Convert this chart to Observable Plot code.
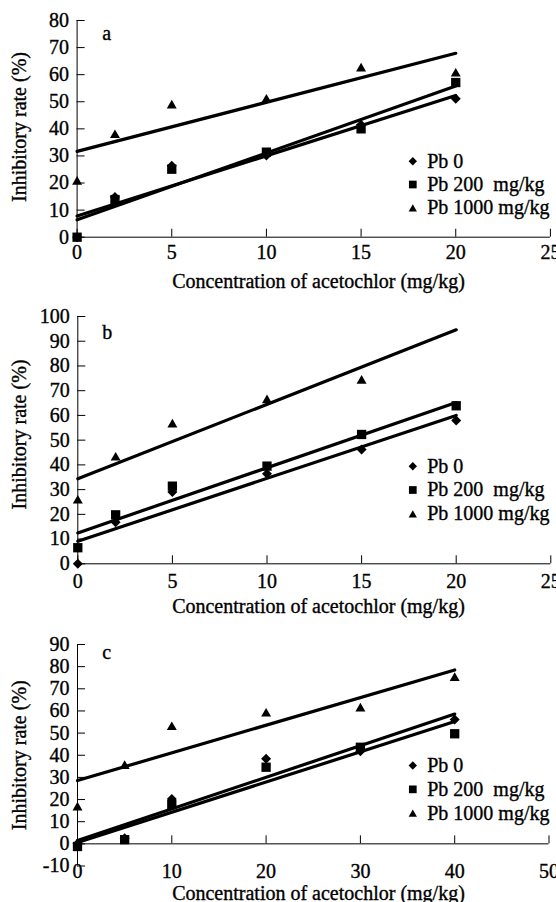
<!DOCTYPE html>
<html><head><meta charset="utf-8">
<script src="https://cdn.jsdelivr.net/npm/d3@7"></script>
<script src="https://cdn.jsdelivr.net/npm/@observablehq/plot@0.6"></script>
<style>
html,body{margin:0;padding:0;background:#fff;}
#wrap{position:relative;width:556px;height:902px;overflow:hidden;background:#fff;}
#wrap svg{position:absolute;left:0;}
#wrap svg text{white-space:pre;stroke:#000;stroke-width:0.35px;}
</style></head><body><div id="wrap"></div>
<script>
// ---------- data ----------
const seriesLabels = ["Pb 0", "Pb 200  mg/kg", "Pb 1000 mg/kg"];
const xTitle = "Concentration of acetochlor (mg/kg)";
const yTitle = "Inhibitory rate (%)";

// panel a
const xA = [0, 2, 5, 10, 15, 20];
const aPb0 = [0, 14.8, 26.4, 30.2, 41.5, 51.1];
const aPb200 = [0, 13.9, 25.1, 31.4, 40.0, 57.1];
const aPb1000 = [21.0, 38.2, 49.1, 51.3, 62.8, 60.9];
const aFitX = [0, 20];
const aFitPb0 = [7.8, 52.3];
const aFitPb200 = [6.4, 55.8];
const aFitPb1000 = [31.7, 67.9];
const aXTicks = [0, 5, 10, 15, 20, 25];
const aYTicks = [0, 10, 20, 30, 40, 50, 60, 70, 80];

// panel b
const xB = [0, 2, 5, 10, 15, 20];
const bPb0 = [0, 16.8, 29.0, 36.4, 46.2, 57.9];
const bPb200 = [6.5, 19.8, 31.4, 39.5, 52.3, 63.9];
const bPb1000 = [26.1, 43.5, 56.9, 66.7, 74.6, null];
const bFitX = [0, 20];
const bFitPb0 = [9.1, 60.0];
const bFitPb200 = [12.5, 65.2];
const bFitPb1000 = [34.4, 94.6];
const bXTicks = [0, 5, 10, 15, 20, 25];
const bYTicks = [0, 10, 20, 30, 40, 50, 60, 70, 80, 90, 100];

// panel c
const xC = [0, 5, 10, 20, 30, 40];
const cPb0 = [0, 2.5, 20.3, 38.4, 41.8, 56.1];
const cPb200 = [-1.2, 1.9, 17.7, 34.6, 43.6, 49.7];
const cPb1000 = [17.0, 35.8, 53.3, 59.4, 61.7, 75.5];
const cFitX = [0, 40];
const cFitPb0 = [1.5, 58.6];
const cFitPb200 = [0.6, 55.2];
const cFitPb1000 = [28.6, 78.5];
const cXTicks = [0, 10, 20, 30, 40, 50];
const cYTicks = [-10, 0, 10, 20, 30, 40, 50, 60, 70, 80, 90];

// ---------- styling ----------
const symbols = ["diamond2", "square", "triangle"];
const dotR = [4.5, 5.25, 3.71];
const dotDy = [0, 0, 1.44];
const legR = [3.78, 4.35, 3.08];
const legDy = [0, 0, 1.2];
const W = 556;

const panels = [
  {letter: "a", xs: xA, ys: [aPb0, aPb200, aPb1000], fitX: aFitX, fits: [aFitPb0, aFitPb200, aFitPb1000],
   xDomain: [0, 25], yDomain: [0, 80], xTicks: aXTicks, yTicks: aYTicks,
   lay: {top: 0, h: 295, mt: 20, mb: 58.3, ml: 76.6, mr: 6.1, xpad: 7.5, titleDy: 50.3, ytDy: -1.85,
         letterY: 39.3, legY0: 160.7, legStep: 23.3}},
  {letter: "b", xs: xB, ys: [bPb0, bPb200, bPb1000], fitX: bFitX, fits: [bFitPb0, bFitPb200, bFitPb1000],
   xDomain: [0, 25], yDomain: [0, 100], xTicks: bXTicks, yTicks: bYTicks,
   lay: {top: 295, h: 330, mt: 21, mb: 61.7, ml: 77.3, mr: 5.7, xpad: 9.5, titleDy: 49.3, ytDy: -5.65,
         letterY: 338.3, legY0: 465.7, legStep: 23.8}},
  {letter: "c", xs: xC, ys: [cPb0, cPb200, cPb1000], fitX: cFitX, fits: [cFitPb0, cFitPb200, cFitPb1000],
   xDomain: [0, 50], yDomain: [-10, 90], xTicks: cXTicks, yTicks: cYTicks,
   lay: {top: 625, h: 277, mt: 19, mb: 36.5, ml: 77, mr: 7.5, xpad: -2.2, titleDy: 33.7, ytDy: 0,
         letterY: 658.3, legY0: 765, legStep: 23.85}}
];

const wrap = document.getElementById("wrap");

for (const p of panels) {
  const L = p.lay;
  const fw = W - L.ml - L.mr;
  const fh = L.h - L.mt - L.mb;
  const zeroFrac = (0 - p.yDomain[0]) / (p.yDomain[1] - p.yDomain[0]);
  const tickLen = 8;
  const frameTop = L.top + L.mt; // page y of the frame's top edge
  const marks = [];

  // trend lines
  p.fits.forEach((f) => {
    marks.push(Plot.line(p.fitX.map((x, j) => ({x, y: f[j]})), {x: "x", y: "y", stroke: "black", strokeWidth: 3.2}));
  });
  // points
  p.ys.forEach((arr, i) => {
    const pts = p.xs.map((x, j) => ({x, y: arr[j]})).filter(d => d.y != null);
    marks.push(Plot.dot(pts, {x: "x", y: "y", symbol: symbols[i], r: dotR[i], fill: "black", dy: dotDy[i]}));
  });

  // axes lines and inward ticks
  marks.push(Plot.ruleY([0], {stroke: "black", strokeWidth: 1}));
  marks.push(Plot.ruleX([0], {stroke: "black", strokeWidth: 1}));
  marks.push(Plot.tickY(p.yTicks, {y: d => d, insetRight: fw - tickLen, stroke: "black"}));
  marks.push(Plot.tickX(p.xTicks, {x: d => d, insetBottom: fh * zeroFrac, insetTop: fh * (1 - zeroFrac) - tickLen, stroke: "black"}));
  marks.push(Plot.axisX({ticks: p.xTicks, tickSize: 0, tickPadding: L.xpad, tickFormat: d => String(d), label: null}));
  marks.push(Plot.axisY({ticks: p.yTicks, tickSize: 0, tickPadding: 8, tickFormat: d => String(d), label: null}));

  // titles
  marks.push(Plot.text([xTitle], {text: d => d, frameAnchor: "bottom", textAnchor: "middle", lineAnchor: "bottom",
    dy: L.titleDy, dx: 318 - (L.ml + fw / 2)}));
  marks.push(Plot.text([yTitle], {text: d => d, frameAnchor: "left", textAnchor: "middle", rotate: -90, lineAnchor: "bottom",
    dx: 25.5 - L.ml, dy: L.ytDy}));
  // panel letter
  marks.push(Plot.text([p.letter], {text: d => d, frameAnchor: "top-left", textAnchor: "start", lineAnchor: "bottom",
    dx: 101.7 - L.ml, dy: L.letterY - frameTop}));

  // legend
  seriesLabels.forEach((lab, i) => {
    const yy = L.legY0 + i * L.legStep - frameTop;
    marks.push(Plot.dot([lab], {frameAnchor: "top-left", dx: 412.3 - L.ml, dy: yy + legDy[i],
      symbol: symbols[i], r: legR[i], fill: "black"}));
    marks.push(Plot.text([lab], {text: d => d, frameAnchor: "top-left", textAnchor: "start", lineAnchor: "middle",
      dx: 426.7 - L.ml, dy: yy}));
  });

  const svg = Plot.plot({
    width: W,
    height: L.h,
    marginTop: L.mt,
    marginBottom: L.mb,
    marginLeft: L.ml,
    marginRight: L.mr,
    x: {domain: p.xDomain},
    y: {domain: p.yDomain},
    style: {fontFamily: "'Liberation Serif', 'Times New Roman', serif", fontSize: "20px", color: "black", background: "transparent", overflow: "visible"},
    marks
  });
  svg.style.position = "absolute";
  svg.style.top = L.top + "px";
  svg.style.left = "0px";
  wrap.appendChild(svg);
}
</script>
</body></html>
